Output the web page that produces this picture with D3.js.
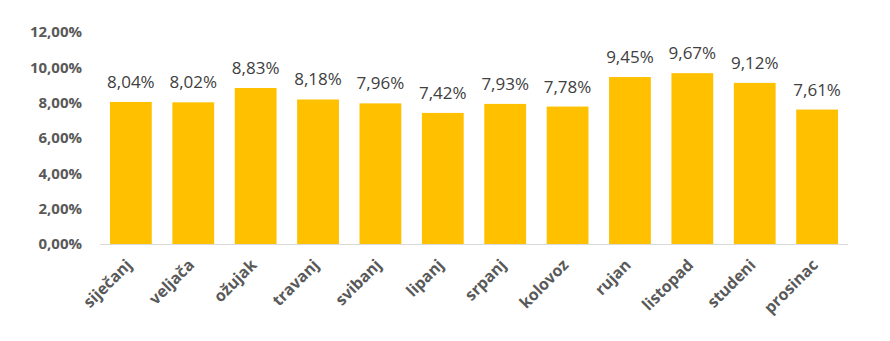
<!DOCTYPE html>
<html>
<head>
<meta charset="UTF-8">
<title>Mjesečni udio</title>
<script src="https://cdn.jsdelivr.net/npm/d3@7"></script>
<style>
  body { margin: 0; background: #fff; }
  svg { font-family: "Open Sans", sans-serif; }
</style>
</head>
<body>
<script>
var months = ["siječanj", "veljača", "ožujak", "travanj", "svibanj", "lipanj",
              "srpanj", "kolovoz", "rujan", "listopad", "studeni", "prosinac"];
var values = [8.04, 8.02, 8.83, 8.18, 7.96, 7.42, 7.93, 7.78, 9.45, 9.67, 9.12, 7.61];
var yTicks = [0, 2, 4, 6, 8, 10, 12];

var width = 890, height = 341;
var margin = {top: 32, right: 42, bottom: 97, left: 100};

var fmt = function (v) { return v.toFixed(2).replace(".", ",") + "%"; };

var svg = d3.select("body").append("svg")
    .attr("width", width)
    .attr("height", height);

var x = d3.scaleBand()
    .domain(months)
    .range([margin.left, width - margin.right])
    .paddingInner(0.33)
    .paddingOuter(0.16);

var y = d3.scaleLinear()
    .domain([0, 12])
    .range([height - margin.bottom, margin.top]);

// y axis labels (no line)
svg.append("g")
    .selectAll("text")
    .data(yTicks)
    .join("text")
    .attr("x", 82)
    .attr("y", function (d) { return y(d); })
    .attr("dy", "0.35em")
    .attr("text-anchor", "end")
    .attr("font-size", 15)
    .attr("font-weight", "bold")
    .attr("fill", "#595959")
    .text(function (d) { return fmt(d); });

// bars
svg.append("g")
    .selectAll("rect")
    .data(values)
    .join("rect")
    .attr("x", function (d, i) { return x(months[i]); })
    .attr("y", function (d) { return y(d); })
    .attr("width", x.bandwidth())
    .attr("height", function (d) { return y(0) - y(d); })
    .attr("fill", "#FFC000");

// baseline
svg.append("line")
    .attr("x1", margin.left)
    .attr("x2", width - margin.right)
    .attr("y1", y(0) + 0.5)
    .attr("y2", y(0) + 0.5)
    .attr("stroke", "#d9d9d9")
    .attr("stroke-width", 1);

// value labels
svg.append("g")
    .selectAll("text")
    .data(values)
    .join("text")
    .attr("x", function (d, i) { return x(months[i]) + x.bandwidth() / 2; })
    .attr("y", function (d) { return y(d) - 14; })
    .attr("text-anchor", "middle")
    .attr("font-size", 17)
    .attr("fill", "#404040")
    .text(function (d) { return fmt(d); });

// category labels, rotated
svg.append("g")
    .selectAll("text")
    .data(months)
    .join("text")
    .attr("transform", function (d) {
        return "translate(" + (x(d) + x.bandwidth() / 2 + 2) + "," + (y(0) + 22) + ") rotate(-45)";
    })
    .attr("text-anchor", "end")
    .attr("font-size", 16)
    .attr("font-weight", "bold")
    .attr("fill", "#595959")
    .text(function (d) { return d; });
</script>
</body>
</html>
